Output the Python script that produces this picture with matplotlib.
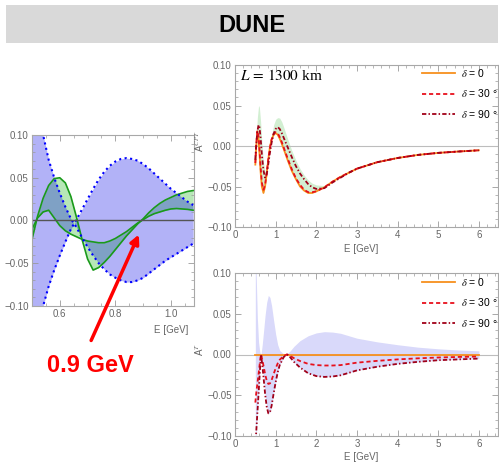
import numpy as np
import matplotlib.pyplot as plt
from matplotlib.patches import Rectangle, FancyArrowPatch
from matplotlib.ticker import MultipleLocator, FuncFormatter

plt.rcParams['font.family'] = ['Liberation Sans', 'DejaVu Sans']
plt.rcParams['mathtext.fontset'] = 'stix'

# left panel: zoom of A^CPT around the first oscillations
E_zoom = [0.50, 0.52, 0.54, 0.56, 0.58, 0.60, 0.62, 0.64, 0.66, 0.68,
          0.70, 0.72, 0.74, 0.76, 0.78, 0.80, 0.82, 0.84, 0.86, 0.88,
          0.90, 0.92, 0.94, 0.96, 0.98, 1.00, 1.02, 1.04, 1.06, 1.08]
blue_a = [0.20, 0.15, 0.10, 0.071, 0.050, 0.032, 0.016, 0.002, -0.008, -0.020,
          -0.031, -0.041, -0.050, -0.057, -0.063, -0.067, -0.070, -0.072, -0.072, -0.070,
          -0.067, -0.062, -0.057, -0.052, -0.047, -0.043, -0.039, -0.035, -0.031, -0.027]
blue_b = [-0.20, -0.15, -0.10, -0.077, -0.058, -0.041, -0.025, -0.010, 0.001, 0.013,
          0.025, 0.037, 0.048, 0.057, 0.064, 0.069, 0.072, 0.073, 0.072, 0.070,
          0.066, 0.061, 0.055, 0.049, 0.043, 0.037, 0.032, 0.027, 0.022, 0.018]
green_x = [-0.022, 0.005, 0.026, 0.041, 0.049, 0.050, 0.044, 0.028, 0.004, -0.022,
           -0.045, -0.058, -0.055, -0.049, -0.042, -0.034, -0.026, -0.018, -0.011, -0.004,
           0.002, 0.009, 0.015, 0.020, 0.024, 0.027, 0.030, 0.032, 0.034, 0.035]
green_y = [-0.010, 0.003, 0.010, 0.012, 0.003, -0.006, -0.012, -0.016, -0.019, -0.022,
           -0.024, -0.025, -0.026, -0.026, -0.024, -0.021, -0.017, -0.013, -0.008, -0.003,
           0.001, 0.005, 0.008, 0.010, 0.012, 0.0135, 0.014, 0.0135, 0.013, 0.012]

# top right: A^CPT, L = 1300 km
E_cpt = [0.5, 0.52, 0.55, 0.58, 0.6, 0.63, 0.66, 0.7, 0.74, 0.78, 0.82, 0.86, 0.9,
         0.95, 1.0, 1.05, 1.1, 1.15, 1.2, 1.3, 1.4, 1.5, 1.6, 1.7, 1.8, 1.9, 2.0,
         2.2, 2.4, 2.6, 2.8, 3.0, 3.5, 4.0, 4.5, 5.0, 5.5, 6.0]
cpt_d0 = [-0.023, -0.002, 0.018, 0.008, -0.008, -0.032, -0.050, -0.058, -0.050, -0.034,
          -0.016, -0.001, 0.008, 0.014, 0.016, 0.014, 0.009, 0.003, -0.004, -0.018,
          -0.031, -0.041, -0.050, -0.055, -0.058, -0.058, -0.056, -0.051, -0.044, -0.038,
          -0.033, -0.028, -0.020, -0.0148, -0.011, -0.0085, -0.0068, -0.0053]
cpt_d30 = [-0.021, -0.001, 0.019, 0.012, -0.002, -0.026, -0.045, -0.054, -0.048, -0.033,
           -0.016, -0.002, 0.008, 0.015, 0.017, 0.016, 0.011, 0.005, -0.002, -0.016,
           -0.029, -0.040, -0.048, -0.054, -0.057, -0.057, -0.056, -0.051, -0.044, -0.038,
           -0.033, -0.028, -0.020, -0.0148, -0.011, -0.0085, -0.0068, -0.0053]
cpt_d90 = [-0.017, 0.000, 0.018, 0.026, 0.024, 0.010, -0.010, -0.030, -0.039, -0.035,
           -0.022, -0.008, 0.004, 0.015, 0.021, 0.0234, 0.021, 0.016, 0.010, -0.002,
           -0.014, -0.025, -0.034, -0.041, -0.047, -0.051, -0.053, -0.052, -0.045, -0.039,
           -0.033, -0.028, -0.020, -0.0148, -0.011, -0.0085, -0.0068, -0.0053]
cpt_band_hi = [-0.015, 0.010, 0.035, 0.050, 0.048, 0.030, 0.005, -0.020, -0.032, -0.030,
               -0.018, -0.002, 0.012, 0.026, 0.033, 0.035, 0.0345, 0.030, 0.023, 0.008,
               -0.006, -0.018, -0.028, -0.036, -0.042, -0.046, -0.048, -0.049, -0.044, -0.038,
               -0.033, -0.028, -0.020, -0.0148, -0.011, -0.0085, -0.0068, -0.0053]

# bottom right: A^T
E_t = [0.5, 0.52, 0.55, 0.58, 0.61, 0.64, 0.67, 0.7, 0.74, 0.78, 0.82, 0.86, 0.9,
       0.95, 1.0, 1.05, 1.1, 1.2, 1.28, 1.35, 1.45, 1.6, 1.8, 2.0, 2.2, 2.4, 2.6,
       2.8, 3.0, 3.5, 4.0, 4.5, 5.0, 5.5, 6.0]
t_d0 = [0.0] * len(E_t)
t_d30 = [-0.059, -0.0485, -0.036, -0.024, -0.011, 0.000, -0.006, -0.0135, -0.024, -0.032,
         -0.0361, -0.0355, -0.0315, -0.024, -0.017, -0.011, -0.0065, -0.0015, 0.000, -0.0015,
         -0.0045, -0.008, -0.0115, -0.013, -0.0135, -0.0135, -0.013, -0.0115, -0.010, -0.0078,
         -0.006, -0.0047, -0.0037, -0.003, -0.0025]
t_d90 = [-0.118, -0.097, -0.072, -0.048, -0.022, 0.000, -0.012, -0.027, -0.048, -0.064,
         -0.0722, -0.071, -0.063, -0.048, -0.034, -0.022, -0.013, -0.003, 0.000, -0.003,
         -0.009, -0.016, -0.023, -0.0265, -0.0275, -0.027, -0.0255, -0.0225, -0.0195, -0.015,
         -0.0115, -0.009, -0.007, -0.006, -0.005]
t_band_hi = [0.14, 0.10, 0.045, 0.015, 0.003, 0.000, 0.012, 0.027, 0.048, 0.064,
             0.0725, 0.070, 0.060, 0.042, 0.025, 0.012, 0.005, 0.0005, 0.001, 0.004,
             0.010, 0.017, 0.023, 0.0265, 0.028, 0.0275, 0.026, 0.023, 0.020, 0.0155,
             0.012, 0.009, 0.007, 0.0055, 0.0045]

labels = [r'$\delta$ = 0', r'$\delta$ = 30 °', r'$\delta$ = 90 °']
colors = ['#f7901e', '#e8101c', '#a00018']
styles = ['-', (0, (2.3, 1.6)), (0, (2.4, 1.2, 0.8, 1.2))]

W, H = 499, 462
fig = plt.figure(figsize=(W / 100, H / 100), dpi=100)


def box(l, t, r, b):
    return fig.add_axes([l / W, 1 - b / H, (r - l) / W, (b - t) / H])


def two_dec(v, p):
    if abs(v) < 1e-9:
        v = 0.0
    return f'{v:.2f}'.replace('-', '\u2212')


def style(ax, xmaj, xmin, xfmt):
    ax.tick_params(which='both', direction='in', top=True, right=True,
                   color='#9a9a9a', labelcolor='#666666', labelsize=7, pad=2.5)
    ax.tick_params(which='major', length=4, width=0.6)
    ax.tick_params(which='minor', length=2, width=0.5)
    for s in ax.spines.values():
        s.set_color('#a8a8a8')
        s.set_linewidth(0.8)
    ax.xaxis.set_major_locator(MultipleLocator(xmaj))
    ax.xaxis.set_minor_locator(MultipleLocator(xmin))
    ax.yaxis.set_major_locator(MultipleLocator(0.05))
    ax.yaxis.set_minor_locator(MultipleLocator(0.01))
    ax.xaxis.set_major_formatter(FuncFormatter(xfmt))
    ax.yaxis.set_major_formatter(FuncFormatter(two_dec))
    ax.set_ylim(-0.1, 0.1)


def add_legend(ax, top):
    ax.legend(loc='upper left', bbox_to_anchor=(422 / W, 1 - top / H),
              bbox_transform=fig.transFigure, frameon=False, fontsize=7.5,
              handlelength=3.2, handletextpad=0.5, labelspacing=0.8,
              borderpad=0, borderaxespad=0)


# title bar
fig.add_artist(Rectangle((6 / W, 1 - 43 / H), 492 / W, 38 / H, transform=fig.transFigure,
                         facecolor='#d9d9d9', edgecolor='none', zorder=0))
fig.text(252 / W, 1 - 25 / H, 'DUNE', ha='center', va='center', fontsize=17, fontweight='bold')

# left zoom panel
ax0 = box(32, 135, 194, 306)
ax0.fill_between(E_zoom, green_x, green_y, color='#33bb33', alpha=0.35, lw=0)
ax0.plot(E_zoom, green_x, color='#1a9a1a', lw=1.2)
ax0.plot(E_zoom, green_y, color='#1a9a1a', lw=1.2)
ax0.fill_between(E_zoom, blue_a, blue_b, color='#0000e6', alpha=0.3, lw=0)
ax0.plot(E_zoom, blue_a, color='#0000ff', ls=':', lw=1.5)
ax0.plot(E_zoom, blue_b, color='#0000ff', ls=':', lw=1.5)
ax0.axhline(0, color='#555555', lw=1.0)
ax0.set_xlim(0.5, 1.083)
style(ax0, 0.2, 0.05, lambda v, p: f'{v:.1f}')
fig.text(171 / W, 1 - 330 / H, 'E [GeV]', ha='center', va='center', fontsize=7, color='#666666')

fig.add_artist(FancyArrowPatch((90 / W, 1 - 343 / H), (140 / W, 1 - 232 / H),
                               transform=fig.transFigure, arrowstyle='-|>',
                               mutation_scale=13, color='#ff0000', lw=2.5))
fig.text(90 / W, 1 - 365 / H, '0.9 GeV', ha='center', va='center', fontsize=17,
         fontweight='bold', color='#ff0000')

# top right panel
ax1 = box(235, 65, 498, 227)
ax1.fill_between(E_cpt, cpt_d0, cpt_band_hi, color='#d2efd2', lw=0)
ax1.axhline(0, color='#bdbdbd', lw=0.8)
for ys, lab, c, ls in zip([cpt_d0, cpt_d30, cpt_d90], labels, colors, styles):
    ax1.plot(E_cpt, ys, color=c, ls=ls, lw=1.3, label=lab)
ax1.set_xlim(0, 6.47)
style(ax1, 1, 0.2, lambda v, p: f'{v:.0f}')
ax1.text(0.02, 0.935, r'$L\,=\,1300$ km', transform=ax1.transAxes, fontsize=11,
         family='Liberation Serif', va='center')
add_legend(ax1, 67)
fig.text(200 / W, 1 - 141 / H, r'A$^{CPT}$', rotation=90, ha='center', va='center',
         fontsize=7, color='#666666')
fig.text(361 / W, 1 - 249 / H, 'E [GeV]', ha='center', va='center', fontsize=7, color='#666666')

# bottom right panel
ax2 = box(235, 273, 498, 436)
ax2.fill_between(E_t, t_d90, t_band_hi, color='#d9d9fa', lw=0)
ax2.axhline(0, color='#bdbdbd', lw=0.8)
for ys, lab, c, ls in zip([t_d0, t_d30, t_d90], labels, colors, styles):
    ax2.plot(E_t, ys, color=c, ls=ls, lw=1.3, label=lab)
ax2.set_xlim(0, 6.47)
style(ax2, 1, 0.2, lambda v, p: f'{v:.0f}')
add_legend(ax2, 276)
fig.text(200 / W, 1 - 350 / H, r'A$^{T}$', rotation=90, ha='center', va='center',
         fontsize=7, color='#666666')
fig.text(361 / W, 1 - 457 / H, 'E [GeV]', ha='center', va='center', fontsize=7, color='#666666')

fig.savefig('out.png', dpi=100)
